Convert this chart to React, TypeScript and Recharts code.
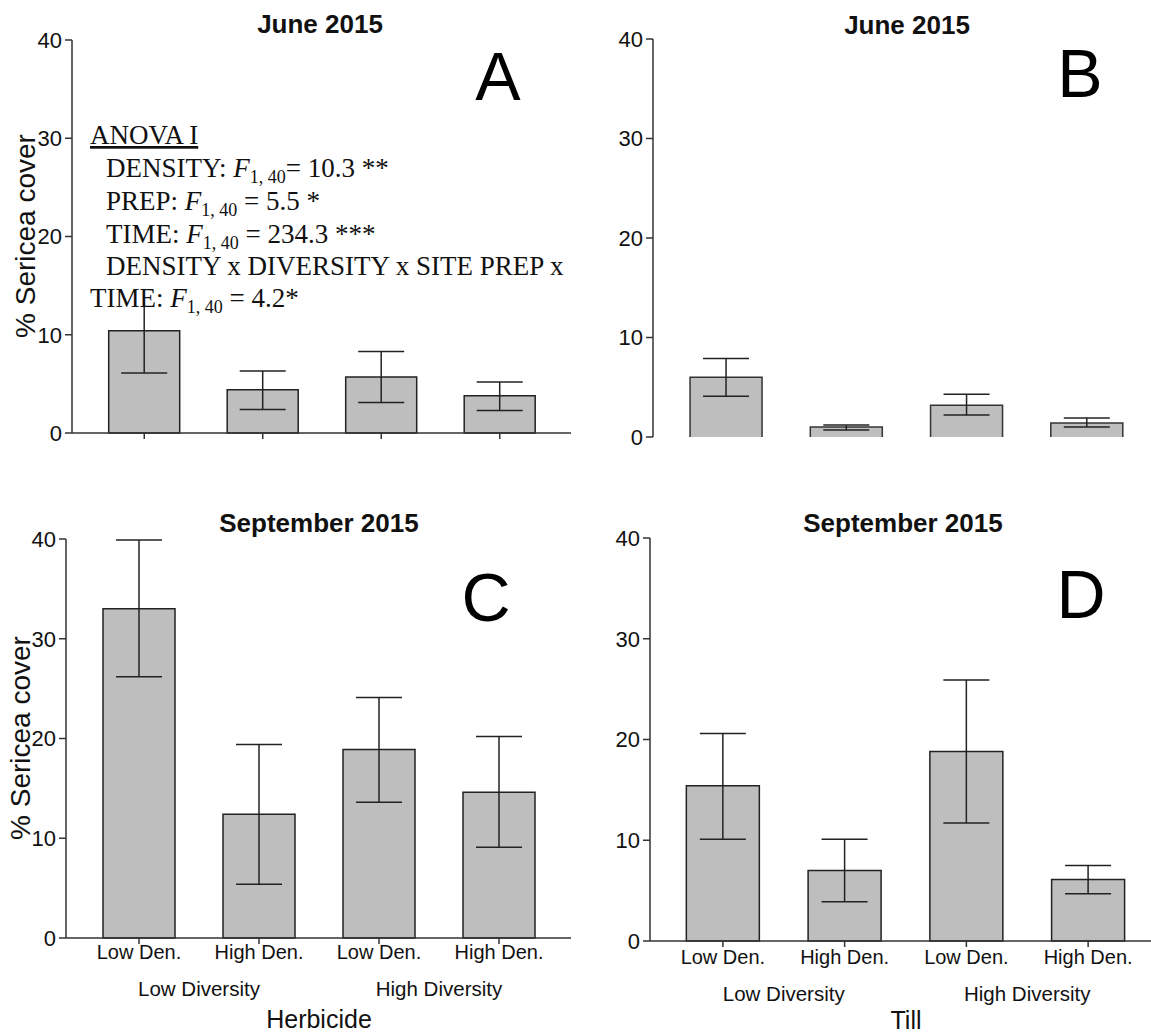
import React from 'react';
import { BarChart, Bar, XAxis, YAxis, ErrorBar } from 'recharts';

// ---------- data ----------
const treatments = ['Low Den.', 'High Den.', 'Low Den.', 'High Den.'];
const diversity = ['Low Diversity', 'Low Diversity', 'High Diversity', 'High Diversity'];
const yTicks = [0, 10, 20, 30, 40];

// June 2015, Herbicide (A)
const juneHerbMean = [10.4, 4.4, 5.7, 3.8];
const juneHerbLow = [6.1, 2.4, 3.1, 2.3];
const juneHerbHigh = [14.7, 6.3, 8.3, 5.2];

// June 2015, Till (B)
const juneTillMean = [6.0, 1.0, 3.2, 1.4];
const juneTillLow = [4.1, 0.7, 2.2, 1.0];
const juneTillHigh = [7.9, 1.2, 4.3, 1.9];

// September 2015, Herbicide (C)
const sepHerbMean = [33.0, 12.4, 18.9, 14.6];
const sepHerbLow = [26.2, 5.4, 13.6, 9.1];
const sepHerbHigh = [39.9, 19.4, 24.1, 20.2];

// September 2015, Till (D)
const sepTillMean = [15.4, 7.0, 18.8, 6.1];
const sepTillLow = [10.1, 3.9, 11.7, 4.7];
const sepTillHigh = [20.6, 10.1, 25.9, 7.5];

const buildRows = (mean: number[], low: number[], high: number[]) =>
  treatments.map((t, i) => ({
    key: `${diversity[i]}|${t}`,
    label: t,
    group: diversity[i],
    mean: mean[i],
    err: [mean[i] - low[i], high[i] - mean[i]],
  }));

const SANS = 'Liberation Sans, Arial, Helvetica, sans-serif';
const SERIF = 'Liberation Serif, Times New Roman, serif';
const AXIS = '#333';
const INK = '#111';

type Geo = {
  left: number; top: number; width: number; height: number;
  plotLeft: number; plotTop: number; plotRight: number; plotBottom: number;
};

const YW = 60;

// tick: treatment label + (every second tick) diversity group label centred between the pair
const FullTick = (props: any) => {
  const { x, y, payload, index } = props;
  const half = payload && typeof payload.offset === 'number' ? payload.offset : 0;
  return (
    <g>
      <text x={x} y={y} dy="0.71em" textAnchor="middle" fontSize={20} fill={INK} fontFamily={SANS}>
        {treatments[index]}
      </text>
      {index % 2 === 0 && (
        <text x={x + half} y={y + 36} dy="0.71em" textAnchor="middle" fontSize={20.5} fill={INK} fontFamily={SANS}>
          {diversity[index]}
        </text>
      )}
    </g>
  );
};

// bar without bottom edge (panel B has no x axis line)
const OpenBar = (props: any) => {
  const { x, y, width, height } = props;
  if (height == null || width == null) return null;
  return (
    <g>
      <rect x={x} y={y} width={width} height={height} fill="#bebebe" />
      <path d={`M${x},${y + height} V${y} H${x + width} V${y + height}`} fill="none" stroke="#333" strokeWidth={1.5} />
    </g>
  );
};

function Panel({ rows, geo, padL, padR, mode, tickGap = 2 }: { rows: any[]; geo: Geo; padL: number; padR: number; mode: 'ticks' | 'none' | 'full'; tickGap?: number }) {
  const xH = mode === 'full' ? 70 : mode === 'ticks' ? 10 : 0;
  const margin = {
    top: geo.plotTop - geo.top,
    left: geo.plotLeft - geo.left - YW,
    right: geo.left + geo.width - geo.plotRight,
    bottom: geo.top + geo.height - geo.plotBottom - xH,
  };
  return (
    <div style={{ position: 'absolute', left: geo.left, top: geo.top }}>
      <BarChart width={geo.width} height={geo.height} data={rows} margin={margin} barCategoryGap="20%">
        <XAxis
          dataKey="key"
          hide={mode === 'none'}
          height={mode === 'full' ? 70 : 10}
          padding={{ left: padL, right: padR }}
          interval={0}
          tick={mode === 'full' ? <FullTick /> : () => <g />}
          tickSize={6}
          tickMargin={tickGap}
          stroke={AXIS}
          strokeWidth={1.5}
        />
        <YAxis
          width={YW}
          type="number"
          domain={[0, 40]}
          ticks={yTicks}
          interval={0}
          tickSize={7}
          tickMargin={3}
          stroke={AXIS}
          strokeWidth={1.5}
          tick={{ fontSize: 22, fill: INK, fontFamily: SANS }}
        />
        <Bar
          dataKey="mean"
          fill="#bebebe"
          stroke="#222"
          strokeWidth={1.5}
          isAnimationActive={false}
          shape={mode === 'none' ? (p: any) => <OpenBar {...p} /> : undefined}
        >
          <ErrorBar dataKey="err" width={23} stroke="#222" strokeWidth={1.5} direction="y" />
        </Bar>
      </BarChart>
    </div>
  );
}

const geoA: Geo = { left: 0, top: 0, width: 580, height: 460, plotLeft: 72, plotTop: 40, plotRight: 571, plotBottom: 433 };
const geoB: Geo = { left: 580, top: 0, width: 571, height: 460, plotLeft: 653, plotTop: 39, plotRight: 1147, plotBottom: 437 };
const geoC: Geo = { left: 0, top: 480, width: 580, height: 556, plotLeft: 66, plotTop: 539, plotRight: 571, plotBottom: 938 };
const geoD: Geo = { left: 580, top: 480, width: 571, height: 556, plotLeft: 650, plotTop: 538, plotRight: 1151, plotBottom: 941 };

function FStat({ rest }: { rest: string }) {
  return (
    <>
      <tspan fontStyle="italic">F</tspan>
      <tspan fontSize={18} dy={6}>1, 40</tspan>
      <tspan dy={-6}>{rest}</tspan>
    </>
  );
}

function Overlay() {
  const title = { fontFamily: SANS, fontWeight: 700, fontSize: 26, fill: INK, textAnchor: 'middle' as const };
  const letter = { fontFamily: SANS, fontSize: 68, fill: '#000', textAnchor: 'middle' as const };
  const ylab = { fontFamily: SANS, fontSize: 28, fill: INK, textAnchor: 'middle' as const, dominantBaseline: 'central' as const };
  const serif = { fontFamily: SERIF, fontSize: 27, fill: INK };
  return (
    <svg width={1151} height={1036} style={{ position: 'absolute', left: 0, top: 0, pointerEvents: 'none' }}>
      <text x={320} y={33} {...title}>June 2015</text>
      <text x={907} y={34} {...title}>June 2015</text>
      <text x={319} y={532} {...title}>September 2015</text>
      <text x={903} y={532} {...title}>September 2015</text>

      <text x={498} y={100} {...letter}>A</text>
      <text x={1080} y={97} {...letter}>B</text>
      <text x={486} y={621} {...letter}>C</text>
      <text x={1081} y={618} {...letter}>D</text>

      <text x={25} y={236} transform="rotate(-90 25 236)" {...ylab}>% Sericea cover</text>
      <text x={20} y={738} transform="rotate(-90 20 738)" {...ylab}>% Sericea cover</text>

      <text x={319} y={1028} fontFamily={SANS} fontSize={25} fill={INK} textAnchor="middle">Herbicide</text>
      <text x={906} y={1029} fontFamily={SANS} fontSize={25} fill={INK} textAnchor="middle">Till</text>

      <rect x={86} y={116} width={482} height={186} fill="#fff" />
      <text x={90} y={144} {...serif} textDecoration="underline">ANOVA I</text>
      <text x={106} y={177} {...serif}>DENSITY: <FStat rest="= 10.3 **" /></text>
      <text x={106} y={210} {...serif}>PREP: <FStat rest=" = 5.5 *" /></text>
      <text x={106} y={243} {...serif}>TIME: <FStat rest=" = 234.3 ***" /></text>
      <text x={106} y={275} {...serif}>DENSITY x DIVERSITY x SITE PREP x</text>
      <text x={90} y={307} {...serif}>TIME: <FStat rest=" = 4.2*" /></text>
    </svg>
  );
}

export default function App() {
  return (
    <div style={{ position: 'absolute', left: 0, top: 0, width: 1151, height: 1036, background: '#fff', overflow: 'hidden' }}>
      <Panel rows={buildRows(juneHerbMean, juneHerbLow, juneHerbHigh)} geo={geoA} padL={13} padR={12} mode="ticks" />
      <Panel rows={buildRows(juneTillMean, juneTillLow, juneTillHigh)} geo={geoB} padL={13} padR={0} mode="none" />
      <Panel rows={buildRows(sepHerbMean, sepHerbLow, sepHerbHigh)} geo={geoC} padL={13} padR={12} mode="full" tickGap={1} />
      <Panel rows={buildRows(sepTillMean, sepTillLow, sepTillHigh)} geo={geoD} padL={12} padR={2} mode="full" tickGap={3} />
      <Overlay />
    </div>
  );
}
